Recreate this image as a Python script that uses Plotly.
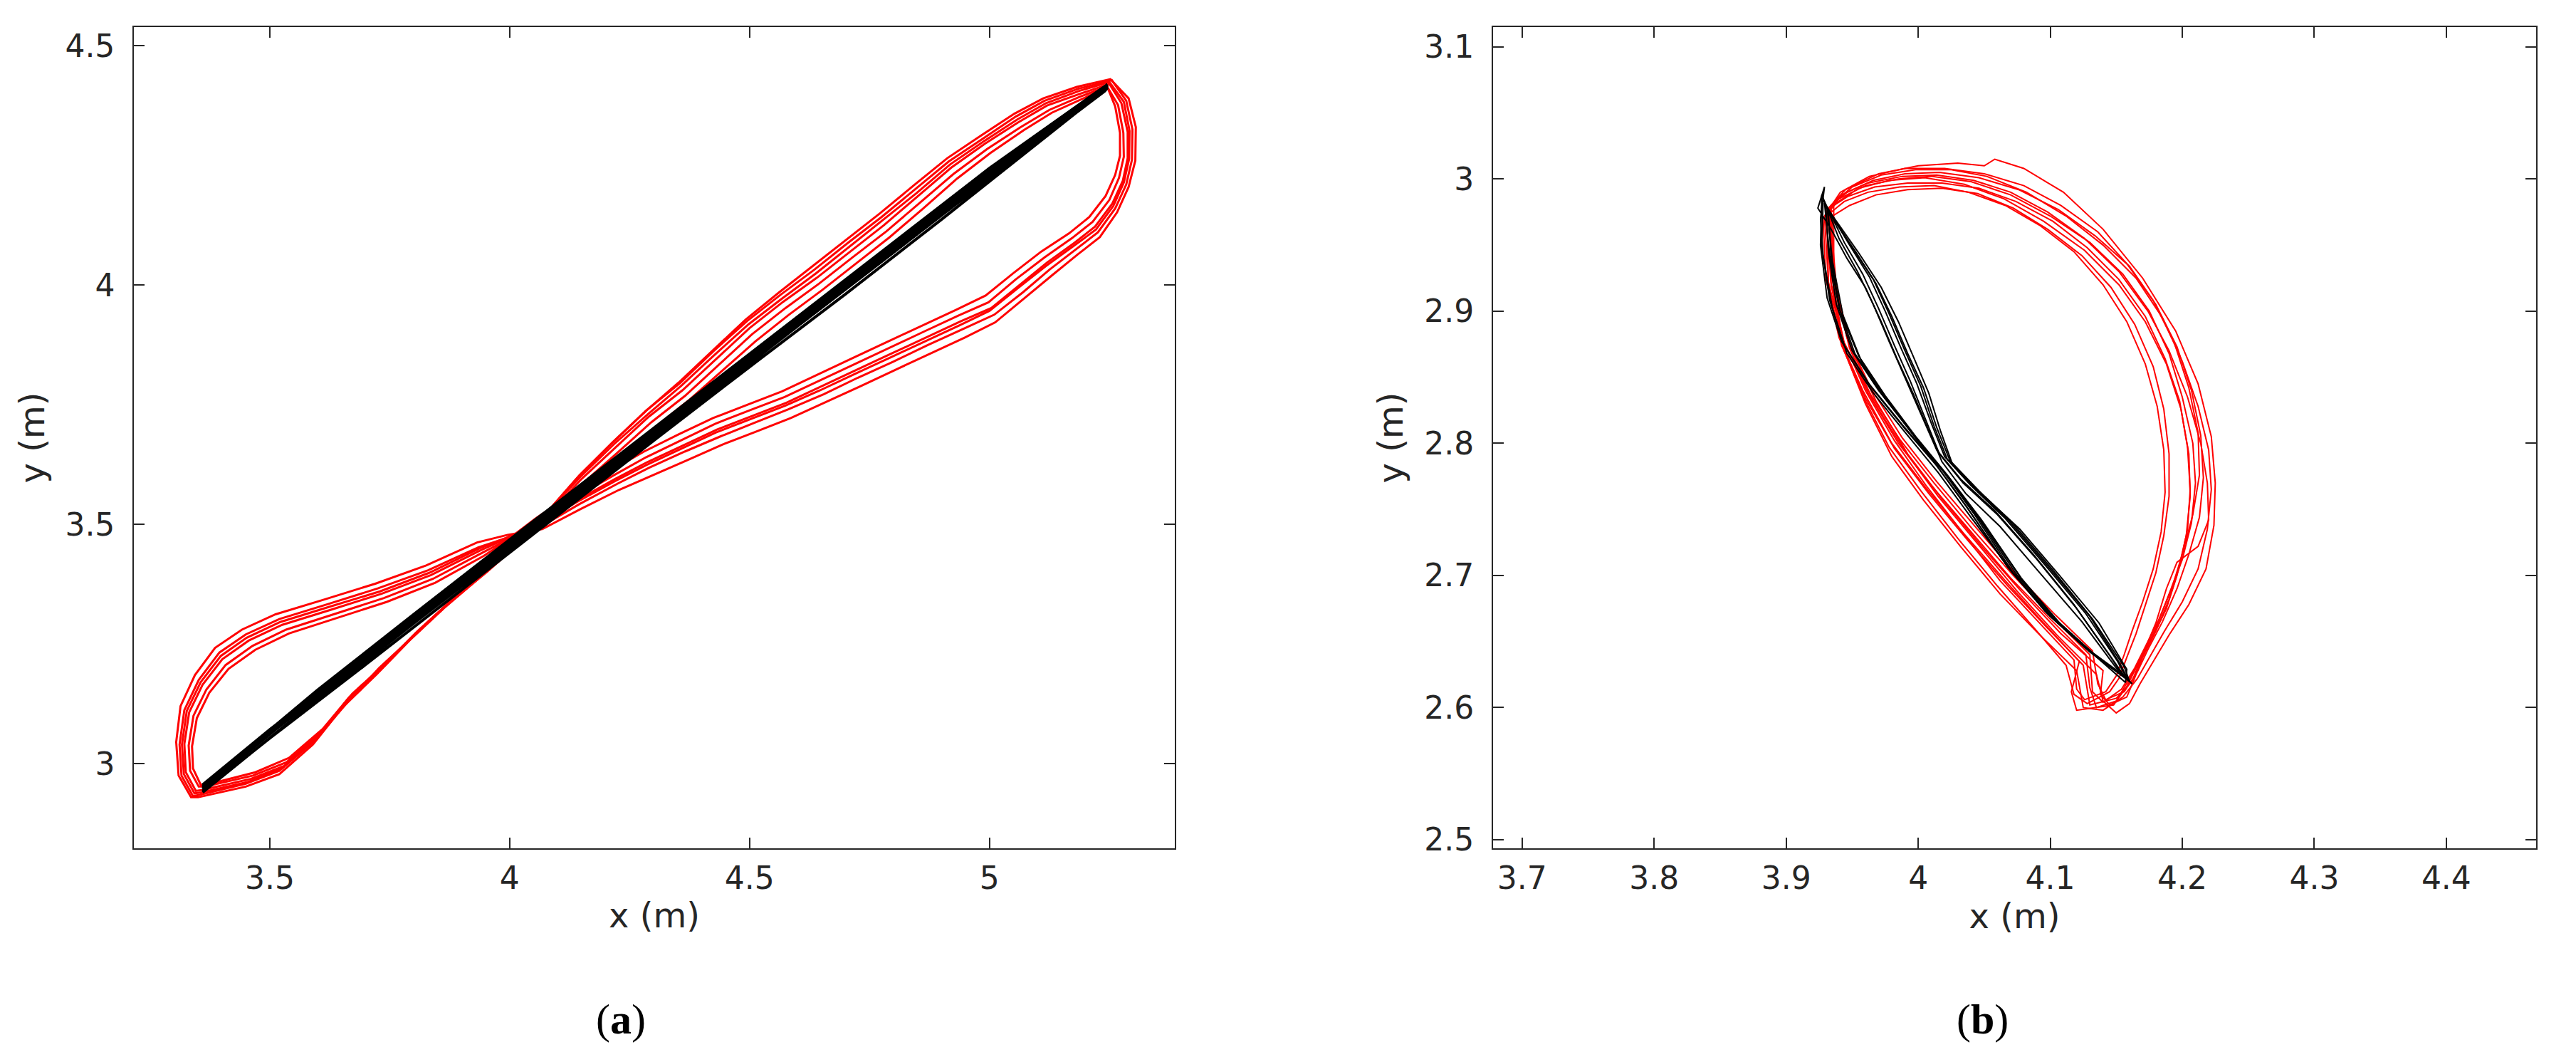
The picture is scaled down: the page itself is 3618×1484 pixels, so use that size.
import plotly.graph_objects as go

# ---- panel (a): figure-eight trajectories (red) and reference line (black) ----
red_a1_x = [3.36, 3.46, 3.53, 3.60, 3.66, 3.73, 3.80, 3.87, 3.94, 4.01, 4.08, 4.15, 4.22, 4.29, 4.36, 4.43, 4.50, 4.57, 4.64, 4.71,
            4.78, 4.85, 4.92, 4.99, 5.06, 5.12, 5.19, 5.25, 5.275, 5.288, 5.288, 5.278, 5.256, 5.22, 5.177, 5.12, 5.062, 5.004, 4.94, 4.866,
            4.794, 4.721, 4.649, 4.577, 4.504, 4.432, 4.36, 4.287, 4.22, 4.14, 4.06, 3.99, 3.94, 3.836, 3.733, 3.629, 3.526, 3.456, 3.401, 3.36,
            3.332, 3.322, 3.325, 3.346, 3.36]
red_a1_y = [2.945, 2.968, 2.995, 3.055, 3.13, 3.196, 3.268, 3.333, 3.392, 3.455, 3.52, 3.595, 3.66, 3.725, 3.78, 3.845, 3.91, 3.965, 4.015, 4.07,
            4.125, 4.185, 4.245, 4.295, 4.34, 4.375, 4.40, 4.42, 4.38, 4.32, 4.265, 4.218, 4.17, 4.122, 4.088, 4.047, 4.0, 3.952, 3.924, 3.89,
            3.856, 3.822, 3.788, 3.754, 3.726, 3.698, 3.664, 3.63, 3.595, 3.55, 3.50, 3.468, 3.446, 3.394, 3.355, 3.322, 3.29, 3.257, 3.218, 3.165,
            3.107, 3.041, 2.982, 2.943, 2.945]

red_a2_x = [3.355, 3.45, 3.52, 3.59, 3.655, 3.725, 3.795, 3.865, 3.935, 4.005, 4.075, 4.145, 4.215, 4.285, 4.355, 4.425, 4.495, 4.565, 4.635, 4.705,
            4.775, 4.845, 4.915, 4.985, 5.055, 5.115, 5.185, 5.255, 5.285, 5.298, 5.297, 5.285, 5.262, 5.226, 5.18, 5.125, 5.07, 5.01, 4.945, 4.87,
            4.80, 4.725, 4.655, 4.58, 4.51, 4.44, 4.365, 4.29, 4.225, 4.145, 4.065, 3.995, 3.935, 3.83, 3.725, 3.62, 3.52, 3.45, 3.395, 3.352,
            3.322, 3.312, 3.316, 3.34, 3.355]
red_a2_y = [2.935, 2.958, 2.985, 3.045, 3.122, 3.19, 3.262, 3.328, 3.388, 3.452, 3.522, 3.602, 3.672, 3.738, 3.795, 3.862, 3.925, 3.98, 4.032, 4.088,
            4.142, 4.2, 4.258, 4.305, 4.352, 4.385, 4.41, 4.428, 4.385, 4.325, 4.262, 4.21, 4.16, 4.11, 4.075, 4.032, 3.985, 3.938, 3.908, 3.874,
            3.84, 3.806, 3.772, 3.74, 3.712, 3.684, 3.652, 3.618, 3.585, 3.542, 3.495, 3.472, 3.452, 3.404, 3.366, 3.333, 3.302, 3.27, 3.232, 3.175,
            3.112, 3.04, 2.975, 2.932, 2.935]

red_a3_x = [3.365, 3.465, 3.535, 3.605, 3.665, 3.735, 3.805, 3.875, 3.945, 4.015, 4.085, 4.155, 4.225, 4.295, 4.365, 4.435, 4.505, 4.575, 4.645, 4.715,
            4.785, 4.855, 4.925, 4.995, 5.065, 5.125, 5.19, 5.245, 5.268, 5.279, 5.28, 5.27, 5.25, 5.215, 5.172, 5.115, 5.055, 4.998, 4.935, 4.862,
            4.79, 4.717, 4.645, 4.573, 4.5, 4.428, 4.356, 4.284, 4.218, 4.138, 4.058, 3.99, 3.942, 3.84, 3.738, 3.636, 3.534, 3.464, 3.408, 3.368,
            3.341, 3.331, 3.334, 3.352, 3.365]
red_a3_y = [2.952, 2.975, 3.003, 3.064, 3.138, 3.203, 3.274, 3.338, 3.396, 3.458, 3.518, 3.588, 3.65, 3.713, 3.768, 3.832, 3.897, 3.952, 4.003, 4.058,
            4.112, 4.172, 4.232, 4.284, 4.33, 4.366, 4.394, 4.415, 4.376, 4.318, 4.268, 4.224, 4.178, 4.132, 4.098, 4.058, 4.012, 3.964, 3.936, 3.902,
            3.868, 3.834, 3.8, 3.766, 3.738, 3.71, 3.675, 3.64, 3.603, 3.557, 3.505, 3.465, 3.44, 3.386, 3.346, 3.313, 3.28, 3.246, 3.206, 3.155,
            3.1, 3.038, 2.985, 2.952, 2.952]

red_a4_x = [3.358, 3.455, 3.525, 3.595, 3.66, 3.728, 3.798, 3.868, 3.938, 4.008, 4.078, 4.148, 4.218, 4.288, 4.358, 4.428, 4.498, 4.568, 4.638, 4.708,
            4.778, 4.848, 4.918, 4.988, 5.058, 5.118, 5.188, 5.25, 5.28, 5.292, 5.291, 5.28, 5.258, 5.222, 5.176, 5.118, 5.06, 5.0, 4.938, 4.864,
            4.792, 4.719, 4.647, 4.575, 4.502, 4.43, 4.358, 4.285, 4.219, 4.139, 4.059, 3.99, 3.938, 3.833, 3.73, 3.625, 3.522, 3.452, 3.398, 3.356,
            3.327, 3.317, 3.321, 3.343, 3.358]
red_a4_y = [2.94, 2.962, 2.99, 3.05, 3.126, 3.2, 3.265, 3.33, 3.39, 3.456, 3.524, 3.6, 3.668, 3.73, 3.79, 3.855, 3.918, 3.972, 4.024, 4.08,
            4.135, 4.192, 4.252, 4.3, 4.346, 4.38, 4.406, 4.424, 4.383, 4.322, 4.263, 4.214, 4.165, 4.116, 4.082, 4.04, 3.994, 3.946, 3.916, 3.882,
            3.848, 3.814, 3.78, 3.748, 3.72, 3.692, 3.658, 3.624, 3.59, 3.546, 3.498, 3.47, 3.45, 3.399, 3.36, 3.328, 3.296, 3.263, 3.225, 3.17,
            3.11, 3.04, 2.978, 2.938, 2.94]

red_a5_x = [3.352, 3.45, 3.52, 3.59, 3.652, 3.722, 3.792, 3.862, 3.932, 4.002, 4.072, 4.142, 4.212, 4.282, 4.352, 4.422, 4.492, 4.562, 4.632, 4.702,
            4.772, 4.842, 4.912, 4.982, 5.052, 5.112, 5.182, 5.252, 5.29, 5.305, 5.304, 5.29, 5.266, 5.23, 5.184, 5.13, 5.072, 5.012, 4.948, 4.874,
            4.802, 4.73, 4.658, 4.586, 4.514, 4.442, 4.37, 4.296, 4.228, 4.148, 4.068, 3.996, 3.932, 3.826, 3.72, 3.614, 3.512, 3.442, 3.386, 3.344,
            3.314, 3.305, 3.31, 3.336, 3.352]
red_a5_y = [2.93, 2.952, 2.978, 3.04, 3.118, 3.186, 3.258, 3.324, 3.384, 3.448, 3.518, 3.598, 3.668, 3.735, 3.796, 3.862, 3.928, 3.985, 4.04, 4.095,
            4.15, 4.208, 4.265, 4.312, 4.358, 4.39, 4.414, 4.43, 4.39, 4.33, 4.26, 4.205, 4.152, 4.1, 4.064, 4.02, 3.972, 3.922, 3.89, 3.856,
            3.822, 3.788, 3.755, 3.722, 3.694, 3.666, 3.634, 3.602, 3.572, 3.532, 3.49, 3.478, 3.462, 3.414, 3.376, 3.343, 3.312, 3.28, 3.242, 3.185,
            3.12, 3.045, 2.975, 2.93, 2.93]

red_a6_x = [3.368, 3.47, 3.54, 3.61, 3.672, 3.742, 3.812, 3.882, 3.952, 4.022, 4.092, 4.162, 4.232, 4.302, 4.372, 4.442, 4.512, 4.582, 4.652, 4.722,
            4.792, 4.862, 4.932, 5.002, 5.072, 5.13, 5.195, 5.246, 5.262, 5.272, 5.272, 5.262, 5.242, 5.208, 5.166, 5.108, 5.05, 4.992, 4.93, 4.856,
            4.784, 4.712, 4.64, 4.568, 4.496, 4.424, 4.352, 4.28, 4.214, 4.134, 4.054, 3.988, 3.946, 3.845, 3.744, 3.642, 3.54, 3.47, 3.414, 3.374,
            3.348, 3.338, 3.34, 3.356, 3.368]
red_a6_y = [2.956, 2.982, 3.012, 3.072, 3.146, 3.21, 3.28, 3.343, 3.4, 3.462, 3.52, 3.584, 3.642, 3.702, 3.758, 3.82, 3.882, 3.938, 3.99, 4.045,
            4.1, 4.16, 4.222, 4.276, 4.324, 4.36, 4.39, 4.413, 4.373, 4.318, 4.27, 4.23, 4.186, 4.142, 4.108, 4.07, 4.025, 3.978, 3.948, 3.914,
            3.88, 3.846, 3.812, 3.778, 3.75, 3.722, 3.688, 3.652, 3.614, 3.566, 3.512, 3.462, 3.434, 3.378, 3.338, 3.305, 3.272, 3.238, 3.198, 3.148,
            3.095, 3.036, 2.99, 2.956, 2.956]

black_a_x = [3.36, 3.5, 3.7, 3.9, 4.1, 4.3, 4.5, 4.7, 4.9, 5.1, 5.246, 5.24, 5.0, 4.8, 4.6, 4.4, 4.2, 4.0, 3.8, 3.6, 3.36]
black_a1_y = [2.95, 3.062, 3.217, 3.373, 3.53, 3.686, 3.84, 3.992, 4.147, 4.305, 4.416, 4.41, 4.233, 4.078, 3.924, 3.768, 3.613, 3.458, 3.303, 3.144, 2.945]
black_a2_y = [2.956, 3.071, 3.228, 3.384, 3.542, 3.697, 3.852, 4.004, 4.158, 4.313, 4.419, 4.415, 4.244, 4.089, 3.934, 3.779, 3.624, 3.468, 3.312, 3.154, 2.953]
black_a3_y = [2.942, 3.053, 3.207, 3.363, 3.52, 3.675, 3.829, 3.981, 4.137, 4.296, 4.412, 4.405, 4.223, 4.068, 3.914, 3.758, 3.603, 3.448, 3.293, 3.135, 2.94]
black_a4_y = [2.948, 3.066, 3.222, 3.378, 3.536, 3.691, 3.846, 3.998, 4.152, 4.309, 4.418, 4.412, 4.238, 4.083, 3.929, 3.773, 3.618, 3.463, 3.307, 3.149, 2.948]

# ---- panel (b): closed-loop trajectories (red) and reference (black) ----
red_b1_x = [3.930, 3.940, 3.960, 3.985, 4.010, 4.040, 4.070, 4.100, 4.130, 4.155, 4.175, 4.190, 4.200, 4.208, 4.210, 4.207, 4.200,
            4.190, 4.180, 4.170, 4.160, 4.150, 4.135, 4.130, 4.127, 4.100, 4.070, 4.040, 4.010, 3.985, 3.962, 3.944, 3.934, 3.930]
red_b1_y = [2.975, 2.985, 2.995, 3.000, 3.002, 2.998, 2.988, 2.972, 2.952, 2.928, 2.900, 2.868, 2.835, 2.800, 2.770, 2.740, 2.712,
            2.686, 2.660, 2.640, 2.622, 2.605, 2.600, 2.615, 2.640, 2.667, 2.698, 2.733, 2.768, 2.800, 2.838, 2.876, 2.920, 2.975]
red_b2_x = [3.932, 3.945, 3.970, 4.000, 4.030, 4.050, 4.058, 4.080, 4.110, 4.140, 4.170, 4.195, 4.212, 4.222, 4.225, 4.224, 4.218,
            4.205, 4.190, 4.178, 4.168, 4.160, 4.150, 4.140, 4.135, 4.105, 4.075, 4.045, 4.015, 3.990, 3.966, 3.948, 3.937, 3.932]
red_b2_y = [2.978, 2.992, 3.004, 3.010, 3.012, 3.010, 3.015, 3.008, 2.990, 2.962, 2.925, 2.885, 2.845, 2.805, 2.770, 2.738, 2.705,
            2.678, 2.655, 2.635, 2.618, 2.603, 2.596, 2.605, 2.625, 2.655, 2.688, 2.724, 2.760, 2.794, 2.832, 2.872, 2.918, 2.978]
red_b3_x = [3.935, 3.948, 3.968, 3.992, 4.018, 4.045, 4.072, 4.098, 4.124, 4.146, 4.164, 4.178, 4.186, 4.190, 4.190, 4.186, 4.180,
            4.172, 4.165, 4.158, 4.152, 4.145, 4.128, 4.118, 4.112, 4.088, 4.060, 4.030, 4.002, 3.978, 3.958, 3.942, 3.934, 3.935]
red_b3_y = [2.972, 2.980, 2.988, 2.992, 2.993, 2.989, 2.978, 2.962, 2.942, 2.918, 2.890, 2.858, 2.826, 2.792, 2.760, 2.730, 2.702,
            2.678, 2.656, 2.638, 2.622, 2.612, 2.603, 2.610, 2.632, 2.660, 2.692, 2.728, 2.764, 2.797, 2.836, 2.875, 2.922, 2.972]
red_b4_x = [3.928, 3.938, 3.955, 3.978, 4.005, 4.035, 4.065, 4.095, 4.126, 4.152, 4.172, 4.188, 4.199, 4.205, 4.206, 4.203, 4.196,
            4.188, 4.176, 4.166, 4.158, 4.148, 4.120, 4.116, 4.122, 4.095, 4.066, 4.036, 4.006, 3.980, 3.958, 3.940, 3.930, 3.928]
red_b4_y = [2.970, 2.982, 2.993, 2.999, 3.001, 2.996, 2.985, 2.968, 2.946, 2.920, 2.892, 2.860, 2.826, 2.792, 2.760, 2.730, 2.700,
            2.675, 2.650, 2.632, 2.616, 2.602, 2.598, 2.612, 2.635, 2.664, 2.696, 2.730, 2.766, 2.800, 2.840, 2.880, 2.925, 2.970]
red_b5_x = [3.934, 3.946, 3.966, 3.990, 4.016, 4.046, 4.076, 4.106, 4.134, 4.160, 4.180, 4.196, 4.207, 4.214, 4.216, 4.213, 4.205,
            4.196, 4.185, 4.174, 4.166, 4.156, 4.142, 4.136, 4.132, 4.104, 4.074, 4.044, 4.014, 3.988, 3.964, 3.946, 3.936, 3.934]
red_b5_y = [2.980, 2.990, 2.999, 3.004, 3.005, 3.001, 2.992, 2.977, 2.957, 2.934, 2.905, 2.873, 2.840, 2.806, 2.774, 2.744, 2.716,
            2.690, 2.665, 2.644, 2.627, 2.612, 2.606, 2.618, 2.643, 2.670, 2.701, 2.736, 2.771, 2.804, 2.842, 2.880, 2.924, 2.980]
red_b6_x = [3.936, 3.950, 3.972, 3.998, 4.025, 4.052, 4.082, 4.112, 4.140, 4.165, 4.185, 4.200, 4.212, 4.220, 4.222, 4.219, 4.212,
            4.200, 4.186, 4.175, 4.166, 4.155, 4.140, 4.125, 4.120, 4.092, 4.062, 4.032, 4.004, 3.980, 3.960, 3.944, 3.936, 3.936]
red_b6_y = [2.982, 2.994, 3.003, 3.007, 3.007, 3.002, 2.990, 2.972, 2.950, 2.925, 2.895, 2.862, 2.828, 2.795, 2.765, 2.735, 2.705,
            2.680, 2.657, 2.638, 2.622, 2.608, 2.598, 2.600, 2.628, 2.655, 2.686, 2.722, 2.757, 2.790, 2.830, 2.870, 2.915, 2.982]
red_b7_x = [3.931, 3.942, 3.962, 3.988, 4.014, 4.042, 4.07, 4.098, 4.126, 4.152, 4.174, 4.19, 4.204, 4.214, 4.219, 4.22, 4.212,
            4.196, 4.188, 4.18, 4.17, 4.162, 4.15, 4.13, 4.125, 4.098, 4.068, 4.038, 4.008, 3.982, 3.96, 3.942, 3.932, 3.931]
red_b7_y = [2.976, 2.988, 2.997, 3.002, 3.003, 2.999, 2.99, 2.975, 2.955, 2.93, 2.9, 2.87, 2.835, 2.8, 2.77, 2.742, 2.722,
            2.71, 2.69, 2.664, 2.64, 2.62, 2.607, 2.602, 2.632, 2.66, 2.692, 2.726, 2.762, 2.796, 2.834, 2.874, 2.92, 2.976]
red_b8_x = [3.933, 3.944, 3.962, 3.986, 4.012, 4.038, 4.066, 4.092, 4.118, 4.14, 4.158, 4.172, 4.181, 4.186, 4.187, 4.184, 4.178,
            4.17, 4.162, 4.156, 4.15, 4.142, 4.126, 4.12, 4.118, 4.092, 4.062, 4.034, 4.006, 3.982, 3.96, 3.943, 3.935, 3.933]
red_b8_y = [2.974, 2.983, 2.99, 2.994, 2.995, 2.99, 2.98, 2.965, 2.945, 2.92, 2.892, 2.86, 2.828, 2.795, 2.763, 2.733, 2.705,
            2.68, 2.658, 2.64, 2.624, 2.612, 2.606, 2.614, 2.636, 2.664, 2.696, 2.732, 2.768, 2.802, 2.84, 2.878, 2.924, 2.974]
red_b9_x = [3.929, 3.941, 3.963, 3.99, 4.02, 4.05, 4.08, 4.108, 4.136, 4.158, 4.178, 4.194, 4.205, 4.212, 4.213, 4.208, 4.2,
            4.192, 4.182, 4.172, 4.164, 4.154, 4.14, 4.132, 4.13, 4.102, 4.072, 4.042, 4.012, 3.986, 3.962, 3.943, 3.932, 3.929]
red_b9_y = [2.972, 2.99, 3.002, 3.008, 3.008, 3.004, 2.995, 2.98, 2.96, 2.936, 2.908, 2.876, 2.842, 2.808, 2.776, 2.746, 2.716,
            2.69, 2.666, 2.646, 2.63, 2.614, 2.604, 2.612, 2.64, 2.668, 2.7, 2.734, 2.77, 2.803, 2.84, 2.878, 2.922, 2.972]
red_b10_x = [3.933, 3.947, 3.967, 3.992, 4.018, 4.046, 4.074, 4.102, 4.128, 4.152, 4.172, 4.187, 4.198, 4.204, 4.206, 4.204, 4.198,
             4.19, 4.18, 4.17, 4.163, 4.158, 4.145, 4.138, 4.14, 4.108, 4.078, 4.048, 4.018, 3.992, 3.968, 3.949, 3.938, 3.933]
red_b10_y = [2.978, 2.987, 2.994, 2.997, 2.997, 2.993, 2.983, 2.968, 2.948, 2.924, 2.896, 2.864, 2.832, 2.797, 2.765, 2.735, 2.707,
             2.682, 2.658, 2.638, 2.62, 2.608, 2.602, 2.61, 2.628, 2.656, 2.688, 2.722, 2.758, 2.792, 2.832, 2.872, 2.918, 2.978]

black_b1_x = [3.930, 3.948, 3.963, 3.975, 3.987, 3.999, 4.010, 4.020, 4.040, 4.066, 4.096, 4.127, 4.151, 4.158, 4.133, 4.103, 4.072,
              4.042, 4.018, 3.995, 3.970, 3.950, 3.938, 3.932, 3.930]
black_b1_y = [2.980, 2.950, 2.926, 2.900, 2.872, 2.845, 2.815, 2.790, 2.768, 2.743, 2.708, 2.671, 2.635, 2.622, 2.640, 2.667, 2.702,
              2.747, 2.780, 2.808, 2.840, 2.870, 2.905, 2.945, 2.980]
black_b2_x = [3.928, 3.944, 3.958, 3.970, 3.982, 3.994, 4.006, 4.016, 4.034, 4.060, 4.090, 4.120, 4.146, 4.155, 4.128, 4.098, 4.068,
              4.038, 4.014, 3.990, 3.964, 3.944, 3.933, 3.927, 3.928]
black_b2_y = [2.985, 2.952, 2.928, 2.902, 2.874, 2.847, 2.817, 2.792, 2.770, 2.746, 2.712, 2.675, 2.638, 2.624, 2.644, 2.671, 2.706,
              2.750, 2.783, 2.811, 2.843, 2.874, 2.908, 2.948, 2.985]
black_b3_x = [3.932, 3.952, 3.968, 3.980, 3.992, 4.004, 4.014, 4.024, 4.046, 4.072, 4.102, 4.132, 4.156, 4.160, 4.138, 4.108, 4.078,
              4.048, 4.022, 3.999, 3.975, 3.955, 3.941, 3.934, 3.932]
black_b3_y = [2.975, 2.946, 2.921, 2.896, 2.868, 2.842, 2.812, 2.787, 2.764, 2.739, 2.704, 2.667, 2.631, 2.620, 2.636, 2.663, 2.698,
              2.742, 2.776, 2.804, 2.836, 2.866, 2.900, 2.940, 2.975]
black_b4_x = [3.926, 3.929, 3.924, 3.934, 3.946, 3.960, 3.972, 3.984, 3.996, 4.008, 4.018, 4.036, 4.062, 4.092, 4.124, 4.150, 4.162,
              4.150, 4.130, 4.100, 4.070, 4.040, 4.015, 3.992, 3.966, 3.946, 3.935, 3.928, 3.926]
black_b4_y = [2.970, 2.994, 2.978, 2.962, 2.940, 2.918, 2.892, 2.864, 2.838, 2.810, 2.786, 2.762, 2.737, 2.702, 2.665, 2.630, 2.618,
              2.628, 2.642, 2.669, 2.704, 2.744, 2.778, 2.806, 2.838, 2.868, 2.902, 2.942, 2.970]
black_b5_x = [3.929, 3.95, 3.966, 3.978, 3.99, 4.002, 4.012, 4.022, 4.043, 4.069, 4.099, 4.13, 4.153, 4.159, 4.136, 4.106, 4.075,
              4.045, 4.02, 3.997, 3.972, 3.952, 3.94, 3.933, 3.929]
black_b5_y = [2.982, 2.948, 2.924, 2.898, 2.87, 2.843, 2.813, 2.788, 2.766, 2.741, 2.706, 2.669, 2.633, 2.621, 2.638, 2.665, 2.7,
              2.744, 2.778, 2.806, 2.838, 2.868, 2.902, 2.942, 2.982]
black_b6_x = [3.931, 3.955, 3.972, 3.985, 3.997, 4.008, 4.017, 4.026, 4.05, 4.077, 4.107, 4.137, 4.158, 4.157, 4.14, 4.11, 4.08,
              4.05, 4.025, 4.001, 3.977, 3.957, 3.943, 3.935, 3.931]
black_b6_y = [2.978, 2.944, 2.918, 2.892, 2.864, 2.838, 2.809, 2.784, 2.76, 2.735, 2.7, 2.664, 2.629, 2.619, 2.634, 2.66, 2.695,
              2.738, 2.772, 2.8, 2.832, 2.862, 2.897, 2.938, 2.978]
black_b7_x = [3.927, 3.94, 3.954, 3.966, 3.978, 3.99, 4.003, 4.014, 4.032, 4.058, 4.088, 4.118, 4.144, 4.156, 4.126, 4.096, 4.066,
              4.036, 4.012, 3.988, 3.962, 3.942, 3.931, 3.926, 3.927]
black_b7_y = [2.988, 2.955, 2.93, 2.905, 2.877, 2.85, 2.82, 2.795, 2.773, 2.749, 2.715, 2.678, 2.641, 2.624, 2.646, 2.673, 2.709,
              2.753, 2.786, 2.814, 2.846, 2.877, 2.91, 2.95, 2.988]

# ticks
a_xticks = [3.5, 4, 4.5, 5]
a_xticklabels = ["3.5", "4", "4.5", "5"]
a_yticks = [3, 3.5, 4, 4.5]
a_yticklabels = ["3", "3.5", "4", "4.5"]
b_xticks = [3.7, 3.8, 3.9, 4.0, 4.1, 4.2, 4.3, 4.4]
b_xticklabels = ["3.7", "3.8", "3.9", "4", "4.1", "4.2", "4.3", "4.4"]
b_yticks = [2.5, 2.6, 2.7, 2.8, 2.9, 3.0, 3.1]
b_yticklabels = ["2.5", "2.6", "2.7", "2.8", "2.9", "3", "3.1"]

RED = "#ff0000"
BLACK = "#000000"
AXIS = "#262626"

fig = go.Figure()

red_a = [(red_a1_x, red_a1_y), (red_a2_x, red_a2_y), (red_a3_x, red_a3_y),
         (red_a4_x, red_a4_y), (red_a5_x, red_a5_y), (red_a6_x, red_a6_y)]
for xs, ys in red_a:
    assert len(xs) == len(ys)
    fig.add_trace(go.Scatter(x=xs, y=ys, mode="lines", line=dict(color=RED, width=3),
                             xaxis="x", yaxis="y", hoverinfo="skip"))
for ys in [black_a1_y, black_a2_y, black_a3_y, black_a4_y]:
    fig.add_trace(go.Scatter(x=black_a_x, y=ys, mode="lines", line=dict(color=BLACK, width=4),
                             xaxis="x", yaxis="y", hoverinfo="skip"))

red_b = [(red_b1_x, red_b1_y), (red_b2_x, red_b2_y), (red_b3_x, red_b3_y), (red_b4_x, red_b4_y),
         (red_b5_x, red_b5_y), (red_b6_x, red_b6_y), (red_b7_x, red_b7_y), (red_b8_x, red_b8_y),
         (red_b9_x, red_b9_y), (red_b10_x, red_b10_y)]
for xs, ys in red_b:
    assert len(xs) == len(ys)
    fig.add_trace(go.Scatter(x=xs, y=ys, mode="lines", line=dict(color=RED, width=2),
                             xaxis="x2", yaxis="y2", hoverinfo="skip"))
black_b = [(black_b1_x, black_b1_y), (black_b2_x, black_b2_y), (black_b3_x, black_b3_y), (black_b4_x, black_b4_y),
           (black_b5_x, black_b5_y), (black_b6_x, black_b6_y), (black_b7_x, black_b7_y)]
for xs, ys in black_b:
    assert len(xs) == len(ys)
    fig.add_trace(go.Scatter(x=xs, y=ys, mode="lines", line=dict(color=BLACK, width=2),
                             xaxis="x2", yaxis="y2", hoverinfo="skip"))

tick_font = dict(family="DejaVu Sans", size=44, color=AXIS)
title_font = dict(family="DejaVu Sans", size=48, color=AXIS)
common = dict(
    showline=True, mirror="ticks", linecolor=AXIS, linewidth=2,
    ticks="inside", ticklen=15, tickwidth=2, tickcolor=AXIS,
    showgrid=False, zeroline=False, tickfont=tick_font, automargin=False,
)

fig.update_layout(
    width=3618, height=1484,
    margin=dict(l=0, r=0, t=0, b=0),
    paper_bgcolor="white", plot_bgcolor="white",
    showlegend=False,
    xaxis=dict(domain=[0.0498, 0.4538], range=[3.217, 5.386], anchor="y",
               tickvals=a_xticks, ticktext=a_xticklabels, ticklabelstandoff=2,
               title=dict(text="x (m)", font=title_font, standoff=12), **common),
    yaxis=dict(domain=[0.2028, 0.9798], range=[2.823, 4.539], anchor="x",
               tickvals=a_yticks, ticktext=a_yticklabels, ticklabelstandoff=16,
               title=dict(text="y (m)", font=title_font, standoff=14), **common),
    xaxis2=dict(domain=[0.5774, 0.9823], range=[3.678, 4.468], anchor="y2",
                tickvals=b_xticks, ticktext=b_xticklabels, ticklabelstandoff=2,
                title=dict(text="x (m)", font=title_font, standoff=12), **common),
    yaxis2=dict(domain=[0.2028, 0.9798], range=[2.4935, 3.115], anchor="x2",
                tickvals=b_yticks, ticktext=b_yticklabels, ticklabelstandoff=16,
                title=dict(text="y (m)", font=title_font, standoff=14), **common),
)

caption_font = dict(family="Liberation Serif", size=60, color="black")
fig.add_annotation(text="(<b>a</b>)", x=864 / 3618, y=(1484 - 1423) / 1484, xref="paper", yref="paper",
                   xanchor="center", yanchor="middle", showarrow=False, font=caption_font)
fig.add_annotation(text="(<b>b</b>)", x=2776 / 3618, y=(1484 - 1423) / 1484, xref="paper", yref="paper",
                   xanchor="center", yanchor="middle", showarrow=False, font=caption_font)

fig.write_html("out.html")
